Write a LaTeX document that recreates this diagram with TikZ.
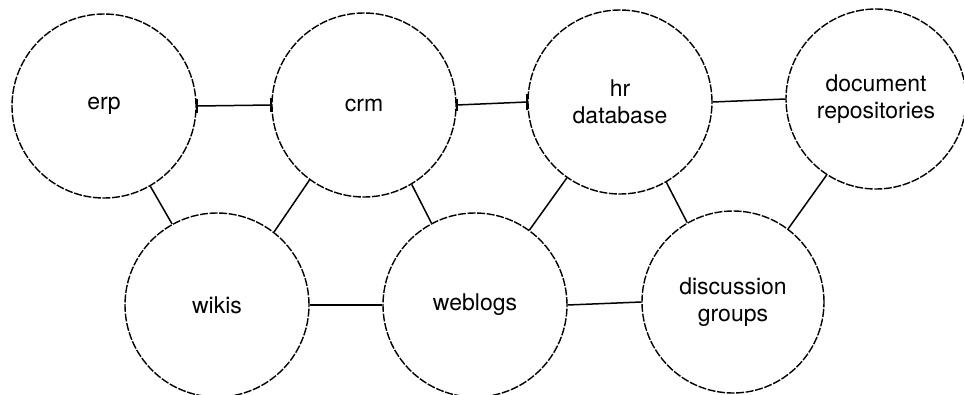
\documentclass[tikz,border=0pt]{standalone}
\usepackage{fontspec}
\setmainfont{TeX Gyre Heros}
\begin{document}
\begin{tikzpicture}[x=1pt,y=1pt,
  sys/.style={circle,draw,line width=1.4pt,dash pattern=on 8pt off 1.6pt,
    minimum size=184pt,inner sep=0pt,align=center,
    font=\fontsize{23}{27}\selectfont},
  link/.style={line width=1.5pt},
  tick/.style={line width=1.8pt}]
  \useasboundingbox (0,0) rectangle (964,-394);

  % top row
  \node[sys] (erp) at (104,-106) {erp};
  \node[sys] (crm) at (364,-105) {crm};
  \node[sys] (hr)  at (620,-102) {hr\\database};
  \node[sys,minimum size=180pt] (doc) at (876,-99) {document\\repositories};

  % bottom row
  \node[sys] (wikis)   at (217,-305) {wikis};
  \node[sys] (weblogs) at (475,-305) {weblogs};
  \node[sys,minimum size=182pt] (disc) at (733,-302) {discussion\\groups};

  % horizontal links, the first two closed by end bars
  \draw[link] (erp.east) -- (crm.west);
  \draw[tick] ([yshift=-7pt]erp.east) -- ([yshift=7pt]erp.east);
  \draw[tick] ([yshift=-7pt]crm.west) -- ([yshift=7pt]crm.west);
  \draw[link] (crm.east) -- (hr.west);
  \draw[tick] ([yshift=-6pt]crm.east) -- ([yshift=6pt]crm.east);
  \draw[tick] ([yshift=-8pt]hr.west) -- ([yshift=8pt]hr.west);
  \draw[link] (hr.east) -- (doc.west);
  \draw[link] (wikis.east) -- (weblogs.west);
  \draw[link] (weblogs.east) -- (disc.west);

  % diagonal links
  \draw[link] (erp.-60)   -- (wikis.119);
  \draw[link] (crm.-126)  -- (wikis.52);
  \draw[link] (crm.-59)   -- (weblogs.118);
  \draw[link] (hr.-125)   -- (weblogs.54);
  \draw[link] (hr.-60)    -- (disc.120);
  \draw[link] (doc.-123)  -- (disc.53);
\end{tikzpicture}
\end{document}
